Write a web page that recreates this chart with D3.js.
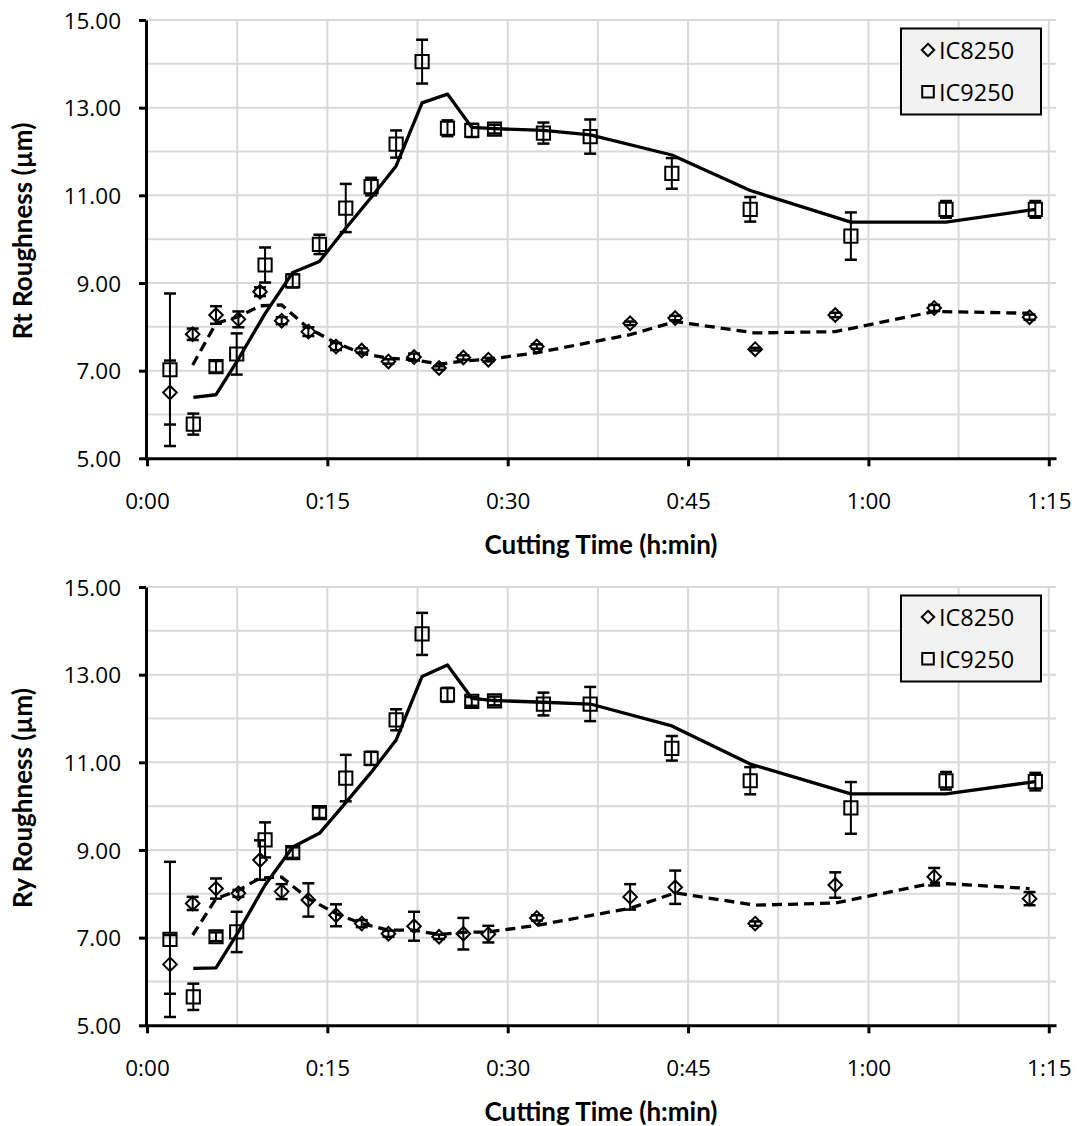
<!DOCTYPE html>
<html><head><meta charset="utf-8">
<script src="https://cdn.jsdelivr.net/npm/d3@7"></script>
<style>body{margin:0;background:#fff}</style>
</head><body>
<svg id="chart" width="1077" height="1126"></svg>
<script>
// ---------- DATA ----------
const seriesNames = ["IC8250", "IC9250"];
const xTickValues = [0, 15, 30, 45, 60, 75];
const xTickLabels = ["0:00", "0:15", "0:30", "0:45", "1:00", "1:15"];
const yTickValues = [5, 7, 9, 11, 13, 15];
const yTickLabels = ["5.00", "7.00", "9.00", "11.00", "13.00", "15.00"];

// cutting time in minutes
const timeIC8250 = [1.91, 3.80, 5.74, 7.60, 9.40, 11.20, 13.42, 15.72, 17.86, 20.08, 22.21, 24.29, 26.31, 28.39, 32.42, 40.18, 43.93, 50.58, 57.24, 65.47, 73.40];
const timeIC9250 = [1.91, 3.85, 5.74, 7.46, 9.82, 12.12, 14.34, 16.53, 18.64, 20.72, 22.88, 24.99, 27.01, 28.90, 32.97, 36.86, 43.65, 50.17, 58.54, 66.45, 73.88];

// Rt
const rtIC8250 = [6.50, 7.83, 8.27, 8.17, 8.80, 8.14, 7.89, 7.55, 7.46, 7.21, 7.31, 7.06, 7.30, 7.25, 7.55, 8.08, 8.20, 7.49, 8.27, 8.43, 8.22];
const rtIC8250Err = [0.73, 0.13, 0.20, 0.18, 0.10, 0.08, 0.10, 0.08, 0.05, 0.05, 0.08, 0.04, 0.05, 0.04, 0.05, 0.04, 0.05, 0.03, 0.05, 0.07, 0.06];
const rtIC8250Trend = [7.13, 8.08, 8.23, 8.48, 8.50, 7.97, 7.63, 7.40, 7.28, 7.25, 7.15, 7.22, 7.26, 7.41, 7.82, 8.12, 7.86, 7.89, 8.35, 8.31];
const rtIC9250 = [7.02, 5.78, 7.09, 7.38, 9.41, 9.05, 9.88, 10.71, 11.20, 12.17, 14.05, 12.53, 12.48, 12.51, 12.42, 12.34, 11.50, 10.68, 10.07, 10.68, 10.68];
const rtIC9250Err = [1.74, 0.24, 0.13, 0.47, 0.40, 0.15, 0.22, 0.55, 0.20, 0.31, 0.50, 0.18, 0.15, 0.10, 0.24, 0.39, 0.35, 0.28, 0.54, 0.19, 0.19];
const rtIC9250Trend = [6.39, 6.45, 7.20, 8.30, 9.24, 9.49, 10.25, 10.95, 11.67, 13.11, 13.31, 12.55, 12.52, 12.48, 12.38, 11.92, 11.11, 10.39, 10.39, 10.68];

// Ry
const ryIC8250 = [6.39, 7.78, 8.12, 8.01, 8.77, 8.05, 7.86, 7.51, 7.32, 7.09, 7.26, 7.02, 7.09, 7.08, 7.45, 7.93, 8.15, 7.32, 8.20, 8.39, 7.89];
const ryIC8250Err = [0.67, 0.15, 0.23, 0.08, 0.45, 0.17, 0.38, 0.25, 0.08, 0.07, 0.33, 0.05, 0.36, 0.19, 0.06, 0.29, 0.38, 0.05, 0.29, 0.20, 0.15];
const ryIC8250Trend = [7.06, 7.89, 8.08, 8.36, 8.38, 7.89, 7.55, 7.32, 7.17, 7.17, 7.07, 7.12, 7.13, 7.28, 7.67, 8.02, 7.74, 7.79, 8.25, 8.12];
const ryIC9250 = [6.96, 5.65, 7.02, 7.13, 9.23, 8.94, 9.85, 10.64, 11.09, 11.97, 13.93, 12.54, 12.39, 12.40, 12.33, 12.33, 11.32, 10.58, 9.96, 10.58, 10.56];
const ryIC9250Err = [1.77, 0.30, 0.10, 0.46, 0.40, 0.12, 0.12, 0.53, 0.15, 0.24, 0.48, 0.16, 0.10, 0.10, 0.26, 0.39, 0.28, 0.31, 0.59, 0.20, 0.20];
const ryIC9250Trend = [6.30, 6.31, 7.07, 8.20, 9.07, 9.38, 10.08, 10.77, 11.51, 12.96, 13.22, 12.46, 12.41, 12.37, 12.33, 11.83, 10.96, 10.28, 10.28, 10.56];

const panelTitles = ["Rt Roughness (µm)", "Ry Roughness (µm)"];
const xTitle = "Cutting Time (h:min)";

// ---------- LAYOUT ----------
const svg = d3.select("#chart");
const plotLeft = 147, plotRight = 1056, plotH = 438.3;
const panelTops = [20, 587];
const tickFont = "'Open Sans', 'Noto Sans', sans-serif";
const titleFont = "Lato, 'Open Sans', sans-serif";

const x = d3.scaleLinear().domain([0, 75.6]).range([plotLeft, plotRight]);

const panels = [
  {title: panelTitles[0], s8: rtIC8250, e8: rtIC8250Err, t8: rtIC8250Trend, s9: rtIC9250, e9: rtIC9250Err, t9: rtIC9250Trend},
  {title: panelTitles[1], s8: ryIC8250, e8: ryIC8250Err, t8: ryIC8250Trend, s9: ryIC9250, e9: ryIC9250Err, t9: ryIC9250Trend}
];

const diamondPath = (cx, cy, r) => `M${cx},${cy - r}L${cx + r},${cy}L${cx},${cy + r}L${cx - r},${cy}Z`;
const squarePath = (cx, cy, r) => `M${cx - r},${cy - r}H${cx + r}V${cy + r}H${cx - r}Z`;

panels.forEach((p, pi) => {
  const top = panelTops[pi];
  const bottom = top + plotH;
  const y = d3.scaleLinear().domain([5, 15]).range([bottom, top]);
  const g = svg.append("g");

  // gridlines
  const hGrid = d3.range(6, 16, 1);
  g.append("g").selectAll("line").data(hGrid).join("line")
    .attr("x1", plotLeft).attr("x2", plotRight)
    .attr("y1", d => y(d)).attr("y2", d => y(d))
    .attr("stroke", "#d9d9d9").attr("stroke-width", 2);
  const vGrid = d3.range(7.5, 75.01, 7.5);
  g.append("g").selectAll("line").data(vGrid).join("line")
    .attr("x1", d => x(d)).attr("x2", d => x(d))
    .attr("y1", top).attr("y2", bottom)
    .attr("stroke", "#d9d9d9").attr("stroke-width", 2);

  // axes
  const yAxis = d3.axisLeft(y).tickValues(yTickValues)
    .tickFormat((d, i) => yTickLabels[i]).tickSize(7).tickSizeOuter(0).tickPadding(18);
  const yg = g.append("g").attr("transform", `translate(${plotLeft - 1},0)`).call(yAxis);
  yg.select(".domain").attr("stroke", "#000").attr("stroke-width", 3);
  yg.selectAll(".tick line").attr("stroke", "#000").attr("stroke-width", 3);
  yg.selectAll(".tick text").attr("font-family", tickFont).attr("font-size", 22.5)
    .attr("fill", "#000").attr("dy", "0.36em");

  const xAxis = d3.axisBottom(x).tickValues(xTickValues)
    .tickFormat((d, i) => xTickLabels[i]).tickSize(8).tickSizeOuter(0);
  const xg = g.append("g").attr("transform", `translate(0,${bottom})`).call(xAxis);
  xg.select(".domain").attr("stroke", "#000").attr("stroke-width", 3);
  xg.selectAll(".tick line").attr("stroke", "#000").attr("stroke-width", 3);
  xg.selectAll(".tick text").attr("font-family", tickFont).attr("font-size", 22.5)
    .attr("fill", "#000").attr("y", 51).attr("dy", 0);

  // axis titles
  g.append("text").text(p.title)
    .attr("transform", `translate(32,${top + 211}) rotate(-90)`)
    .attr("text-anchor", "middle").attr("font-family", titleFont)
    .attr("font-weight", "bold").attr("font-size", 26).attr("fill", "#000");
  g.append("text").text(xTitle)
    .attr("x", 601).attr("y", bottom + 95.5)
    .attr("text-anchor", "middle").attr("font-family", titleFont)
    .attr("font-weight", "bold").attr("font-size", 26).attr("fill", "#000");

  // trend lines
  const line = d3.line().x(d => x(d[0])).y(d => y(d[1]));
  const tr9 = p.t9.map((v, i) => [timeIC9250[i + 1], v]);
  const tr8 = p.t8.map((v, i) => [timeIC8250[i + 1], v]);
  g.append("path").datum(tr9).attr("d", line).attr("fill", "none")
    .attr("stroke", "#000").attr("stroke-width", 3.3).attr("stroke-linejoin", "round");
  g.append("path").datum(tr8).attr("d", line).attr("fill", "none")
    .attr("stroke", "#000").attr("stroke-width", 3.3).attr("stroke-dasharray", "10,6");

  // error bars + markers
  const drawSeries = (times, vals, errs, shape) => {
    const pts = vals.map((v, i) => ({t: times[i], v, e: errs[i]}));
    const eb = g.append("g").attr("stroke", "#000");
    eb.selectAll("line.v").data(pts).join("line").attr("class", "v")
      .attr("x1", d => x(d.t)).attr("x2", d => x(d.t))
      .attr("y1", d => y(d.v - d.e)).attr("y2", d => y(d.v + d.e))
      .attr("stroke-width", 2);
    eb.selectAll("line.ct").data(pts).join("line").attr("class", "ct")
      .attr("x1", d => x(d.t) - 6).attr("x2", d => x(d.t) + 6)
      .attr("y1", d => y(d.v + d.e)).attr("y2", d => y(d.v + d.e))
      .attr("stroke-width", 2.5);
    eb.selectAll("line.cb").data(pts).join("line").attr("class", "cb")
      .attr("x1", d => x(d.t) - 6).attr("x2", d => x(d.t) + 6)
      .attr("y1", d => y(d.v - d.e)).attr("y2", d => y(d.v - d.e))
      .attr("stroke-width", 2.5);
    g.append("g").selectAll("path").data(pts).join("path")
      .attr("d", d => shape === "diamond" ? diamondPath(x(d.t), y(d.v), 6.8) : squarePath(x(d.t), y(d.v), 6.6))
      .attr("fill", "none").attr("stroke", "#000").attr("stroke-width", 2);
  };
  drawSeries(timeIC9250, p.s9, p.e9, "square");
  drawSeries(timeIC8250, p.s8, p.e8, "diamond");

  // legend
  const lg = g.append("g");
  lg.append("rect").attr("x", 901).attr("y", top + 8.5).attr("width", 140).attr("height", 86)
    .attr("fill", "#f2f2f2").attr("stroke", "#000").attr("stroke-width", 2);
  lg.append("path").attr("d", diamondPath(928, top + 30, 6.2))
    .attr("fill", "none").attr("stroke", "#000").attr("stroke-width", 2);
  lg.append("path").attr("d", squarePath(928, top + 71.7, 5.8))
    .attr("fill", "none").attr("stroke", "#000").attr("stroke-width", 2);
  lg.selectAll("text").data(seriesNames).join("text")
    .attr("x", 939).attr("y", (d, i) => top + 38.5 + i * 42.5)
    .attr("font-family", tickFont).attr("font-size", 23.5).attr("fill", "#000")
    .text(d => d);
});
</script>
</body></html>
